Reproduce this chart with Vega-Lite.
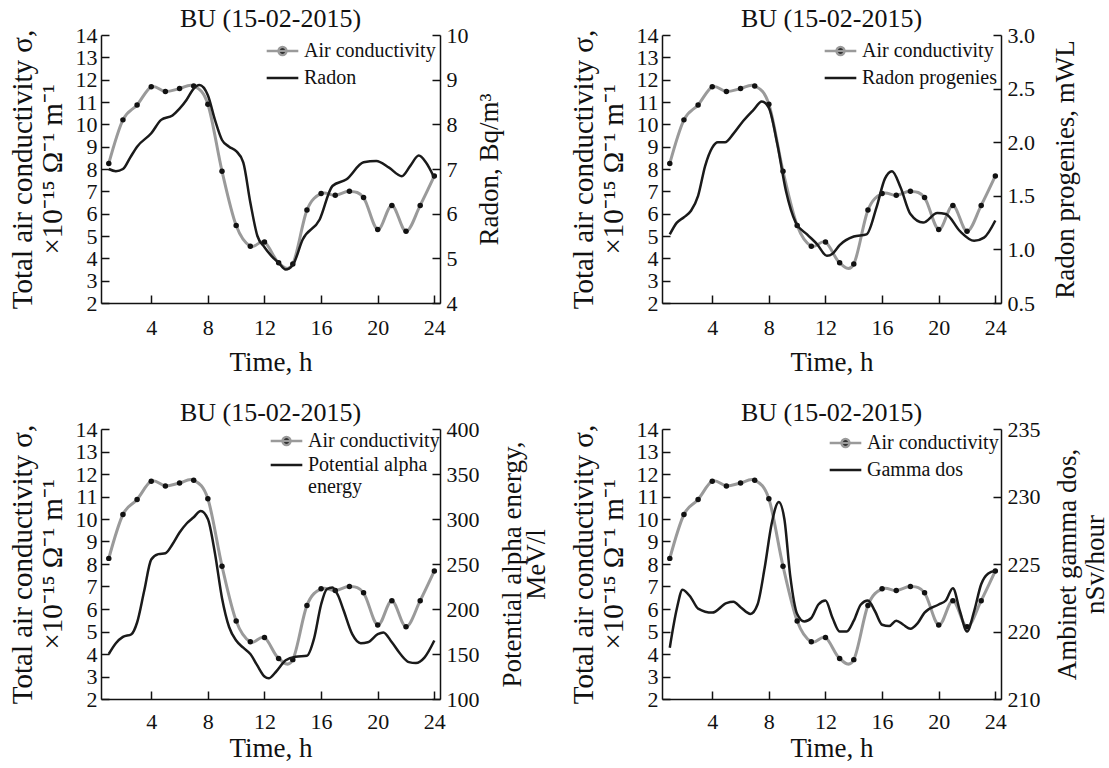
{
  "$schema": "https://vega.github.io/schema/vega-lite/v6.json",
  "padding": {"left": 7, "top": 6, "right": 0, "bottom": 0},
  "background": "white",
  "config": {
    "font": "Liberation Serif",
    "view": {"stroke": null},
    "axis": {"grid": false, "domainColor": "#111", "tickColor": "#111", "labelColor": "#111", "titleColor": "#111", "labelFontSize": 22, "titleFontSize": 27, "titleFontWeight": "normal", "tickSize": -8, "domainWidth": 1.5, "tickWidth": 1.5, "labelFont": "Liberation Serif", "titleFont": "Liberation Serif"},
    "title": {"fontSize": 26, "fontWeight": "normal", "offset": -8, "font": "Liberation Serif", "color": "#111"},
    "legend": {"orient": "top-right", "labelFontSize": 20, "labelFont": "Liberation Serif", "labelColor": "#111", "symbolSize": 1000, "symbolStrokeWidth": 2.5, "offset": 4, "rowPadding": 3, "clipHeight": 24, "padding": 0, "labelLimit": 300, "title": null}
  },
  "datasets": {
    "ac": [
      {"hour": 1, "value": 8.25}, {"hour": 2, "value": 10.2}, {"hour": 3, "value": 10.87}, {"hour": 4, "value": 11.68},
      {"hour": 5, "value": 11.47}, {"hour": 6, "value": 11.6}, {"hour": 7, "value": 11.72}, {"hour": 8, "value": 10.9},
      {"hour": 9, "value": 7.9}, {"hour": 10, "value": 5.47}, {"hour": 11, "value": 4.54}, {"hour": 12, "value": 4.73},
      {"hour": 13, "value": 3.8}, {"hour": 14, "value": 3.75}, {"hour": 15, "value": 6.16}, {"hour": 16, "value": 6.9},
      {"hour": 17, "value": 6.82}, {"hour": 18, "value": 7.0}, {"hour": 19, "value": 6.72}, {"hour": 20, "value": 5.29},
      {"hour": 21, "value": 6.37}, {"hour": 22, "value": 5.21}, {"hour": 23, "value": 6.37}, {"hour": 24, "value": 7.69}
    ],
    "radon": [
      {"hour": 1, "value": 7.0}, {"hour": 1.5, "value": 6.95}, {"hour": 2, "value": 7.0}, {"hour": 2.5, "value": 7.25},
      {"hour": 3, "value": 7.5}, {"hour": 4, "value": 7.8}, {"hour": 4.7, "value": 8.1}, {"hour": 5.5, "value": 8.2},
      {"hour": 6, "value": 8.35}, {"hour": 6.5, "value": 8.55}, {"hour": 7, "value": 8.8}, {"hour": 7.4, "value": 8.88},
      {"hour": 8, "value": 8.65}, {"hour": 8.5, "value": 8.1}, {"hour": 9, "value": 7.65}, {"hour": 9.5, "value": 7.5},
      {"hour": 10, "value": 7.4}, {"hour": 10.5, "value": 7.15}, {"hour": 11, "value": 6.25}, {"hour": 11.5, "value": 5.5},
      {"hour": 12, "value": 5.25}, {"hour": 12.5, "value": 5.05}, {"hour": 13, "value": 4.9}, {"hour": 13.5, "value": 4.75},
      {"hour": 14, "value": 4.85}, {"hour": 14.7, "value": 5.42}, {"hour": 15.9, "value": 5.87}, {"hour": 16.8, "value": 6.62},
      {"hour": 17.8, "value": 6.77}, {"hour": 19, "value": 7.15}, {"hour": 19.9, "value": 7.18}, {"hour": 20.8, "value": 7.03},
      {"hour": 21.7, "value": 6.84}, {"hour": 22.3, "value": 7.07}, {"hour": 22.9, "value": 7.3}, {"hour": 23.4, "value": 7.15},
      {"hour": 24, "value": 6.8}
    ],
    "progeny": [
      {"hour": 1, "value": 1.14}, {"hour": 1.5, "value": 1.25}, {"hour": 2, "value": 1.3}, {"hour": 2.5, "value": 1.36},
      {"hour": 3, "value": 1.5}, {"hour": 3.5, "value": 1.78}, {"hour": 4, "value": 1.95}, {"hour": 4.4, "value": 2.0},
      {"hour": 4.9, "value": 2.0}, {"hour": 5.5, "value": 2.08}, {"hour": 6.2, "value": 2.2}, {"hour": 6.9, "value": 2.3},
      {"hour": 7.5, "value": 2.38}, {"hour": 8, "value": 2.32}, {"hour": 8.6, "value": 1.98}, {"hour": 9.2, "value": 1.55},
      {"hour": 9.9, "value": 1.25}, {"hour": 10.7, "value": 1.14}, {"hour": 11.4, "value": 1.05}, {"hour": 12.1, "value": 0.94},
      {"hour": 12.5, "value": 0.96}, {"hour": 13, "value": 1.04}, {"hour": 14, "value": 1.12}, {"hour": 14.9, "value": 1.14},
      {"hour": 15.6, "value": 1.39}, {"hour": 16.2, "value": 1.66}, {"hour": 16.7, "value": 1.73}, {"hour": 17.3, "value": 1.58},
      {"hour": 18, "value": 1.33}, {"hour": 18.9, "value": 1.25}, {"hour": 19.9, "value": 1.34}, {"hour": 20.5, "value": 1.33},
      {"hour": 21.5, "value": 1.17}, {"hour": 22.5, "value": 1.08}, {"hour": 23.2, "value": 1.11}, {"hour": 24, "value": 1.27}
    ],
    "pae": [
      {"hour": 1, "value": 150}, {"hour": 1.5, "value": 162}, {"hour": 2, "value": 169}, {"hour": 2.6, "value": 172},
      {"hour": 3, "value": 185}, {"hour": 3.5, "value": 220}, {"hour": 4, "value": 255}, {"hour": 4.5, "value": 261},
      {"hour": 5, "value": 262}, {"hour": 5.5, "value": 272}, {"hour": 6, "value": 285}, {"hour": 6.5, "value": 295},
      {"hour": 7, "value": 302}, {"hour": 7.5, "value": 309}, {"hour": 8, "value": 300}, {"hour": 8.5, "value": 262},
      {"hour": 9, "value": 212}, {"hour": 9.5, "value": 180}, {"hour": 10, "value": 165}, {"hour": 10.5, "value": 157},
      {"hour": 11, "value": 150}, {"hour": 11.5, "value": 137}, {"hour": 12, "value": 125}, {"hour": 12.3, "value": 123},
      {"hour": 12.8, "value": 130}, {"hour": 13.5, "value": 143}, {"hour": 14.2, "value": 147}, {"hour": 15, "value": 148},
      {"hour": 15.5, "value": 167}, {"hour": 16, "value": 205}, {"hour": 16.4, "value": 222}, {"hour": 16.8, "value": 224},
      {"hour": 17.2, "value": 215}, {"hour": 17.6, "value": 198}, {"hour": 18.2, "value": 172}, {"hour": 18.8, "value": 162},
      {"hour": 19.3, "value": 163}, {"hour": 20, "value": 172}, {"hour": 20.4, "value": 174}, {"hour": 21, "value": 163},
      {"hour": 21.6, "value": 150}, {"hour": 22.2, "value": 141}, {"hour": 22.7, "value": 140}, {"hour": 23.3, "value": 146},
      {"hour": 24, "value": 165}
    ],
    "gamma": [
      {"hour": 1, "value": 218.8}, {"hour": 1.5, "value": 221.7}, {"hour": 1.9, "value": 223.1}, {"hour": 2.5, "value": 222.5},
      {"hour": 3, "value": 221.7}, {"hour": 4, "value": 221.4}, {"hour": 5, "value": 222.1}, {"hour": 5.5, "value": 222.2},
      {"hour": 6, "value": 221.8}, {"hour": 6.7, "value": 221.3}, {"hour": 7.2, "value": 222.0}, {"hour": 7.7, "value": 224.7},
      {"hour": 8.2, "value": 228.0}, {"hour": 8.7, "value": 229.6}, {"hour": 9.1, "value": 228.3}, {"hour": 9.5, "value": 224.2},
      {"hour": 10, "value": 221.3}, {"hour": 10.5, "value": 220.75}, {"hour": 11, "value": 221.0}, {"hour": 11.5, "value": 222.0},
      {"hour": 12, "value": 222.3}, {"hour": 12.5, "value": 221.0}, {"hour": 13, "value": 220.0}, {"hour": 13.5, "value": 220.0},
      {"hour": 14, "value": 220.8}, {"hour": 14.5, "value": 222.0}, {"hour": 15, "value": 222.3}, {"hour": 15.5, "value": 221.5},
      {"hour": 16, "value": 220.5}, {"hour": 16.5, "value": 220.4}, {"hour": 17, "value": 220.8}, {"hour": 17.5, "value": 220.5},
      {"hour": 18, "value": 220.2}, {"hour": 18.5, "value": 220.6}, {"hour": 19, "value": 221.4}, {"hour": 20, "value": 222.0},
      {"hour": 20.5, "value": 222.3}, {"hour": 21, "value": 223.2}, {"hour": 21.5, "value": 221.5}, {"hour": 22, "value": 220.0},
      {"hour": 22.5, "value": 221.5}, {"hour": 23, "value": 223.5}, {"hour": 23.5, "value": 224.3}, {"hour": 24, "value": 224.5}
    ]
  },
  "vconcat": [
    {
      "hconcat": [
        {
          "width": 339, "height": 268,
          "title": "BU (15-02-2015)",
          "layer": [
            {
              "data": {"name": "ac"},
              "encoding": {
                "x": {"field": "hour", "type": "quantitative", "scale": {"domain": [0.45, 24.4], "nice": false, "zero": false}, "axis": {"values": [4, 8, 12, 16, 20, 24], "title": "Time, h", "labelPadding": 22, "titlePadding": 11}},
                "y": {"field": "value", "type": "quantitative", "scale": {"domain": [2, 14], "nice": false, "zero": false}, "axis": {"values": [2, 3, 4, 5, 6, 7, 8, 9, 10, 11, 12, 13, 14], "title": ["Total air conductivity σ,", "×10⁻¹⁵ Ω⁻¹ m⁻¹"], "titleFontSize": 29, "titleLineHeight": 30, "labelPadding": 12, "titlePadding": 8}}
              },
              "layer": [
                {"mark": {"type": "line", "interpolate": "cardinal", "strokeWidth": 3},
                 "encoding": {"color": {"datum": "Air conductivity", "scale": {"domain": ["Air conductivity", "Radon"], "range": ["#9a9a9a", "#1a1a1a"]},
                   "legend": {"encode": {"symbols": {"update": {"shape": {"signal": "datum.value === 'Air conductivity' ? 'M-1,0H1M0.25,0A0.25,0.25,0,1,1,-0.25,0A0.25,0.25,0,1,1,0.25,0' : 'stroke'"}, "fill": {"value": "#111"}}}}}}}},
                {"mark": {"type": "point", "filled": true, "size": 30, "color": "#111", "opacity": 1}},
                {"data": {"values": [{}]}, "mark": {"type": "text", "align": "left", "baseline": "middle", "fontSize": 15, "text": "r = +0.75", "color": "#111"},
                 "encoding": {"x": {"datum": 0.8}, "y": {"datum": 13.5}}}
              ]
            },
            {
              "data": {"name": "radon"},
              "mark": {"type": "line", "interpolate": "monotone", "strokeWidth": 2.5},
              "encoding": {
                "x": {"field": "hour", "type": "quantitative"},
                "y": {"field": "value", "type": "quantitative", "scale": {"domain": [4, 10], "nice": false, "zero": false}, "axis": {"orient": "right", "values": [4, 5, 6, 7, 8, 9, 10], "title": "Radon, Bq/m³", "titleAngle": 270, "titleBaseline": "top", "labelPadding": 14, "titlePadding": 8}},
                "color": {"datum": "Radon"}
              }
            }
          ],
          "resolve": {"scale": {"y": "independent"}}
        },
        {
          "width": 339, "height": 268,
          "title": "BU (15-02-2015)",
          "layer": [
            {
              "data": {"name": "ac"},
              "encoding": {
                "x": {"field": "hour", "type": "quantitative", "scale": {"domain": [0.45, 24.4], "nice": false, "zero": false}, "axis": {"values": [4, 8, 12, 16, 20, 24], "title": "Time, h", "labelPadding": 22, "titlePadding": 11}},
                "y": {"field": "value", "type": "quantitative", "scale": {"domain": [2, 14], "nice": false, "zero": false}, "axis": {"values": [2, 3, 4, 5, 6, 7, 8, 9, 10, 11, 12, 13, 14], "title": ["Total air conductivity σ,", "×10⁻¹⁵ Ω⁻¹ m⁻¹"], "titleFontSize": 29, "titleLineHeight": 30, "labelPadding": 12, "titlePadding": 8}}
              },
              "layer": [
                {"mark": {"type": "line", "interpolate": "cardinal", "strokeWidth": 3},
                 "encoding": {"color": {"datum": "Air conductivity", "scale": {"domain": ["Air conductivity", "Radon progenies"], "range": ["#9a9a9a", "#1a1a1a"]},
                   "legend": {"encode": {"symbols": {"update": {"shape": {"signal": "datum.value === 'Air conductivity' ? 'M-1,0H1M0.25,0A0.25,0.25,0,1,1,-0.25,0A0.25,0.25,0,1,1,0.25,0' : 'stroke'"}, "fill": {"value": "#111"}}}}}}}},
                {"mark": {"type": "point", "filled": true, "size": 30, "color": "#111", "opacity": 1}},
                {"data": {"values": [{}]}, "mark": {"type": "text", "align": "left", "baseline": "middle", "fontSize": 15, "text": "r = +0.77", "color": "#111"},
                 "encoding": {"x": {"datum": 0.8}, "y": {"datum": 13.5}}}
              ]
            },
            {
              "data": {"name": "progeny"},
              "mark": {"type": "line", "interpolate": "monotone", "strokeWidth": 2.5},
              "encoding": {
                "x": {"field": "hour", "type": "quantitative"},
                "y": {"field": "value", "type": "quantitative", "scale": {"domain": [0.5, 3], "nice": false, "zero": false}, "axis": {"orient": "right", "values": [0.5, 1, 1.5, 2, 2.5, 3], "format": ".1f", "title": "Radon progenies, mWL", "titleAngle": 270, "titleBaseline": "top", "labelPadding": 14, "titlePadding": 18}},
                "color": {"datum": "Radon progenies"}
              }
            }
          ],
          "resolve": {"scale": {"y": "independent"}}
        }
      ],
      "spacing": 222,
      "bounds": "flush",
      "resolve": {"scale": {"color": "independent"}, "legend": {"color": "independent"}}
    },
    {
      "hconcat": [
        {
          "width": 339, "height": 270,
          "title": "BU (15-02-2015)",
          "layer": [
            {
              "data": {"name": "ac"},
              "encoding": {
                "x": {"field": "hour", "type": "quantitative", "scale": {"domain": [0.45, 24.4], "nice": false, "zero": false}, "axis": {"values": [4, 8, 12, 16, 20, 24], "title": "Time, h", "labelPadding": 20, "titlePadding": 3}},
                "y": {"field": "value", "type": "quantitative", "scale": {"domain": [2, 14], "nice": false, "zero": false}, "axis": {"values": [2, 3, 4, 5, 6, 7, 8, 9, 10, 11, 12, 13, 14], "title": ["Total air conductivity σ,", "×10⁻¹⁵ Ω⁻¹ m⁻¹"], "titleFontSize": 29, "titleLineHeight": 30, "labelPadding": 12, "titlePadding": 8}}
              },
              "layer": [
                {"mark": {"type": "line", "interpolate": "cardinal", "strokeWidth": 3},
                 "encoding": {"color": {"datum": "Air conductivity", "scale": {"domain": ["Air conductivity", "Potential alpha energy"], "range": ["#9a9a9a", "#1a1a1a"]},
                   "legend": {"offset": 0, "rowPadding": 0, "labelExpr": "datum.label === 'Potential alpha energy' ? ['Potential alpha', 'energy'] : datum.label", "encode": {"symbols": {"update": {"shape": {"signal": "datum.value === 'Air conductivity' ? 'M-1,0H1M0.25,0A0.25,0.25,0,1,1,-0.25,0A0.25,0.25,0,1,1,0.25,0' : 'stroke'"}, "fill": {"value": "#111"}}}}}}}},
                {"mark": {"type": "point", "filled": true, "size": 30, "color": "#111", "opacity": 1}},
                {"data": {"values": [{}]}, "mark": {"type": "text", "align": "left", "baseline": "middle", "fontSize": 15, "text": "r = +0.74", "color": "#111"},
                 "encoding": {"x": {"datum": 0.8}, "y": {"datum": 13.5}}}
              ]
            },
            {
              "data": {"name": "pae"},
              "mark": {"type": "line", "interpolate": "monotone", "strokeWidth": 2.5},
              "encoding": {
                "x": {"field": "hour", "type": "quantitative"},
                "y": {"field": "value", "type": "quantitative", "scale": {"domain": [100, 400], "nice": false, "zero": false}, "axis": {"orient": "right", "values": [100, 150, 200, 250, 300, 350, 400], "title": ["Potential alpha energy,", "MeV/l"], "titleLineHeight": 24, "titleAngle": 270, "titleBaseline": "top", "labelPadding": 14, "titlePadding": -4}},
                "color": {"datum": "Potential alpha energy"}
              }
            }
          ],
          "resolve": {"scale": {"y": "independent"}}
        },
        {
          "width": 339, "height": 270,
          "title": "BU (15-02-2015)",
          "layer": [
            {
              "data": {"name": "ac"},
              "encoding": {
                "x": {"field": "hour", "type": "quantitative", "scale": {"domain": [0.45, 24.4], "nice": false, "zero": false}, "axis": {"values": [4, 8, 12, 16, 20, 24], "title": "Time, h", "labelPadding": 20, "titlePadding": 3}},
                "y": {"field": "value", "type": "quantitative", "scale": {"domain": [2, 14], "nice": false, "zero": false}, "axis": {"values": [2, 3, 4, 5, 6, 7, 8, 9, 10, 11, 12, 13, 14], "title": ["Total air conductivity σ,", "×10⁻¹⁵ Ω⁻¹ m⁻¹"], "titleFontSize": 29, "titleLineHeight": 30, "labelPadding": 12, "titlePadding": 8}}
              },
              "layer": [
                {"mark": {"type": "line", "interpolate": "cardinal", "strokeWidth": 3},
                 "encoding": {"color": {"datum": "Air conductivity", "scale": {"domain": ["Air conductivity", "Gamma dos"], "range": ["#9a9a9a", "#1a1a1a"]},
                   "legend": {"offset": 2, "encode": {"symbols": {"update": {"shape": {"signal": "datum.value === 'Air conductivity' ? 'M-1,0H1M0.25,0A0.25,0.25,0,1,1,-0.25,0A0.25,0.25,0,1,1,0.25,0' : 'stroke'"}, "fill": {"value": "#111"}}}}}}}},
                {"mark": {"type": "point", "filled": true, "size": 30, "color": "#111", "opacity": 1}},
                {"data": {"values": [{}]}, "mark": {"type": "text", "align": "left", "baseline": "middle", "fontSize": 15, "text": "r = +0.12", "color": "#111"},
                 "encoding": {"x": {"datum": 0.8}, "y": {"datum": 13.5}}}
              ]
            },
            {
              "data": {"name": "gamma"},
              "mark": {"type": "line", "interpolate": "monotone", "strokeWidth": 2.5},
              "encoding": {
                "x": {"field": "hour", "type": "quantitative"},
                "y": {"field": "value", "type": "quantitative", "scale": {"domain": [215, 235], "nice": false, "zero": false}, "axis": {"orient": "right", "values": [215, 220, 225, 230, 235], "labelExpr": "datum.value == 215 ? '210' : datum.label", "title": ["Ambinet gamma dos,", "nSv/hour"], "titleLineHeight": 28, "titleAngle": 270, "titleBaseline": "top", "labelPadding": 14, "titlePadding": -14}},
                "color": {"datum": "Gamma dos"}
              }
            }
          ],
          "resolve": {"scale": {"y": "independent"}}
        }
      ],
      "spacing": 222,
      "bounds": "flush",
      "resolve": {"scale": {"color": "independent"}, "legend": {"color": "independent"}}
    }
  ],
  "spacing": 25,
  "resolve": {"scale": {"color": "independent"}, "legend": {"color": "independent"}}
}
